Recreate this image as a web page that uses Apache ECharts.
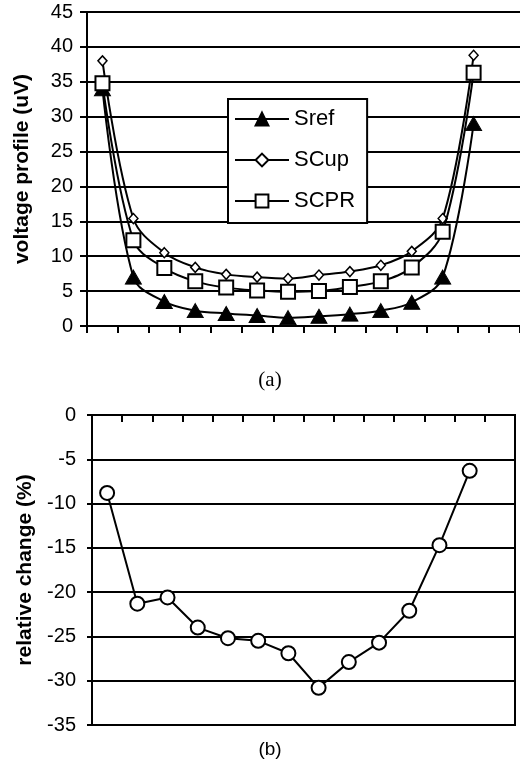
<!DOCTYPE html>
<html>
<head>
<meta charset="utf-8">
<script src="https://cdn.jsdelivr.net/npm/echarts@6/dist/echarts.min.js"></script>
<style>
html,body{margin:0;padding:0;background:#fff;}
#chart{width:520px;height:762px;}
</style>
</head>
<body>
<div id="chart"></div>
<script>
// categories (14 slots, last empty as in the reference)
var categories = ['1','2','3','4','5','6','7','8','9','10','11','12','13','14'];
// top panel (a): voltage profile (uV)
var sref = [34.0, 7.0, 3.5, 2.2, 1.8, 1.5, 1.2, 1.4, 1.7, 2.2, 3.4, 7.0, 29.0];
var scup = [38.0, 15.4, 10.5, 8.4, 7.4, 7.0, 6.8, 7.3, 7.8, 8.7, 10.7, 15.4, 38.8];
var scpr = [34.8, 12.3, 8.3, 6.4, 5.5, 5.1, 4.9, 5.0, 5.6, 6.4, 8.4, 13.5, 36.3];
// bottom panel (b): relative change (%)
var relChange = [-8.8, -21.3, -20.6, -24.0, -25.2, -25.5, -26.9, -30.8, -27.9, -25.7, -22.1, -14.7, -6.3];
var topTicks = {min: 0, max: 45, interval: 5};
var botTicks = {min: -35, max: 0, interval: 5};
var seriesNames = ['Sref', 'SCup', 'SCPR'];

var FONT = '"Liberation Sans", Arial, sans-serif';
var chart = echarts.init(document.getElementById('chart'), null, {renderer: 'canvas'});

var axisLineStyle = {color: '#000', width: 2};
var labelStyle = {color: '#000', fontFamily: FONT, fontSize: 20};

chart.setOption({
  backgroundColor: '#fff',
  animation: false,
  grid: [
    {left: 87, top: 12, width: 438, height: 314, show: false},
    {left: 92, top: 415, width: 423, height: 310, show: true, borderColor: '#000', borderWidth: 2, backgroundColor: 'transparent'}
  ],
  legend: {
    data: seriesNames,
    orient: 'vertical',
    left: 228, top: 99,
    width: 140,
    padding: [9, 12, 11, 6],
    itemWidth: 54, itemHeight: 16, itemGap: 19,
    backgroundColor: '#fff',
    borderColor: '#000', borderWidth: 2,
    textStyle: {color: '#000', fontFamily: FONT, fontSize: 22},
    inactiveColor: '#000',
    selectedMode: false
  },
  xAxis: [
    {
      type: 'category', gridIndex: 0, data: categories, boundaryGap: true,
      axisLine: {show: true, onZero: false, lineStyle: axisLineStyle},
      axisTick: {show: true, length: 7, lineStyle: {color: '#000', width: 2}, interval: 0},
      axisLabel: {show: false},
      splitLine: {show: false}
    },
    {
      type: 'category', gridIndex: 1, data: categories, boundaryGap: true, position: 'top',
      axisLine: {show: true, onZero: false, lineStyle: axisLineStyle},
      axisTick: {show: true, inside: true, length: 7, lineStyle: {color: '#000', width: 2}, interval: 0},
      axisLabel: {show: false},
      splitLine: {show: false}
    }
  ],
  yAxis: [
    {
      type: 'value', gridIndex: 0, min: topTicks.min, max: topTicks.max, interval: topTicks.interval,
      name: 'voltage profile (uV)', nameLocation: 'middle', nameGap: 54, nameRotate: 90,
      nameTextStyle: {color: '#000', fontFamily: FONT, fontSize: 21, fontWeight: 'bold'},
      axisLine: {show: true, lineStyle: axisLineStyle},
      axisTick: {show: true, length: 7, lineStyle: {color: '#000', width: 2}},
      axisLabel: Object.assign({margin: 14}, labelStyle),
      splitLine: {show: true, lineStyle: {color: '#000', width: 2}}
    },
    {
      type: 'value', gridIndex: 1, min: botTicks.min, max: botTicks.max, interval: botTicks.interval,
      name: 'relative change (%)', nameLocation: 'middle', nameGap: 54, nameRotate: 90,
      nameTextStyle: {color: '#000', fontFamily: FONT, fontSize: 21, fontWeight: 'bold'},
      axisLine: {show: true, onZero: false, lineStyle: axisLineStyle},
      axisTick: {show: true, length: 5, lineStyle: {color: '#000', width: 2}},
      axisLabel: Object.assign({margin: 16}, labelStyle),
      splitLine: {show: true, lineStyle: {color: '#000', width: 2}}
    }
  ],
  series: [
    {
      name: seriesNames[0], type: 'line', xAxisIndex: 0, yAxisIndex: 0, data: sref,
      smooth: 0.35, symbol: 'triangle', symbolSize: [16, 14],
      lineStyle: {color: '#000', width: 2},
      itemStyle: {color: '#000', borderColor: '#000', borderWidth: 1}, z: 3
    },
    {
      name: seriesNames[1], type: 'line', xAxisIndex: 0, yAxisIndex: 0, data: scup,
      smooth: 0.35, symbol: 'diamond', symbolSize: [9, 10],
      lineStyle: {color: '#000', width: 2},
      itemStyle: {color: '#fff', borderColor: '#000', borderWidth: 1.5}, z: 4
    },
    {
      name: seriesNames[2], type: 'line', xAxisIndex: 0, yAxisIndex: 0, data: scpr,
      smooth: 0.35, symbol: 'rect', symbolSize: 14,
      lineStyle: {color: '#000', width: 2},
      itemStyle: {color: '#fff', borderColor: '#000', borderWidth: 2}, z: 5
    },
    {
      name: 'relative change', type: 'line', xAxisIndex: 1, yAxisIndex: 1, data: relChange,
      smooth: false, symbol: 'circle', symbolSize: 14,
      lineStyle: {color: '#000', width: 2},
      itemStyle: {color: '#fff', borderColor: '#000', borderWidth: 2}, z: 5
    }
  ],
  graphic: [
    {type: 'text', x: 270, y: 380, style: {text: '(a)', fill: '#000', font: '21px "Liberation Serif", "Times New Roman", serif', align: 'center', verticalAlign: 'middle'}},
    {type: 'text', x: 270, y: 750, style: {text: '(b)', fill: '#000', font: '19px "Liberation Sans", Arial, sans-serif', align: 'center', verticalAlign: 'middle'}}
  ]
});
</script>
</body>
</html>
